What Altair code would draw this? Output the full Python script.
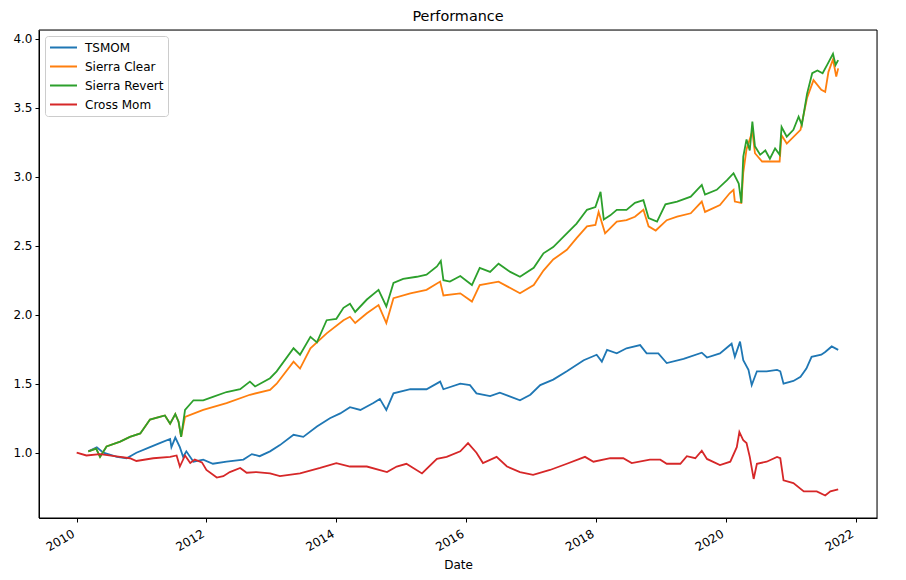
import altair as alt
import pandas as pd

names = ["TSMOM", "Sierra Clear", "Sierra Revert", "Cross Mom"]
colors = ["#1f77b4", "#ff7f0e", "#2ca02c", "#d62728"]

tsmom_t = [2010.18, 2010.31, 2010.41, 2010.62, 2010.77, 2010.92, 2011.13, 2011.28, 2011.44, 2011.46,
           2011.52, 2011.59, 2011.64, 2011.69, 2011.80, 2011.95, 2012.10, 2012.31, 2012.57, 2012.70,
           2012.82, 2012.98, 2013.13, 2013.34, 2013.49, 2013.70, 2013.90, 2014.06, 2014.21, 2014.37,
           2014.57, 2014.67, 2014.77, 2014.88, 2015.14, 2015.39, 2015.60, 2015.65, 2015.91, 2016.06,
           2016.16, 2016.37, 2016.52, 2016.83, 2016.99, 2017.14, 2017.34, 2017.55, 2017.81, 2018.01,
           2018.09, 2018.17, 2018.32, 2018.47, 2018.68, 2018.78, 2018.96, 2019.09, 2019.35, 2019.63,
           2019.71, 2019.91, 2020.09, 2020.14, 2020.22, 2020.27, 2020.35, 2020.40, 2020.48, 2020.63,
           2020.79, 2020.84, 2020.89, 2021.04, 2021.15, 2021.24, 2021.32, 2021.47, 2021.53, 2021.63,
           2021.73]
tsmom_v = [1.01, 1.04, 1.00, 0.97, 0.96, 1.00, 1.04, 1.07, 1.10, 1.04,
           1.11, 1.04, 0.97, 1.01, 0.935, 0.95, 0.92, 0.935, 0.95, 0.99,
           0.975, 1.01, 1.055, 1.13, 1.115, 1.19, 1.25, 1.285, 1.33, 1.31,
           1.36, 1.39, 1.31, 1.43, 1.46, 1.46, 1.515, 1.46, 1.50, 1.49,
           1.43, 1.41, 1.435, 1.38, 1.42, 1.49, 1.53, 1.59, 1.67, 1.71,
           1.66, 1.745, 1.72, 1.757, 1.78, 1.72, 1.72, 1.65, 1.68, 1.725,
           1.69, 1.72, 1.79, 1.695, 1.805, 1.67, 1.60, 1.49, 1.59, 1.59,
           1.60, 1.59, 1.50, 1.52, 1.55, 1.61, 1.695, 1.71, 1.73, 1.77,
           1.745]

clear_t = [2010.18, 2010.30, 2010.36, 2010.46, 2010.67, 2010.82, 2010.98, 2011.13, 2011.28, 2011.36,
           2011.44, 2011.52, 2011.57, 2011.61, 2011.67, 2011.95, 2012.31, 2012.67, 2012.98, 2013.08,
           2013.34, 2013.44, 2013.60, 2013.85, 2014.11, 2014.21, 2014.29, 2014.47, 2014.65, 2014.77,
           2014.88, 2015.14, 2015.39, 2015.60, 2015.65, 2015.91, 2016.09, 2016.21, 2016.50, 2016.83,
           2017.04, 2017.19, 2017.34, 2017.55, 2017.70, 2017.86, 2017.99, 2018.04, 2018.14, 2018.32,
           2018.47, 2018.60, 2018.73, 2018.81, 2018.92, 2019.09, 2019.25, 2019.46, 2019.63, 2019.68,
           2019.91, 2020.06, 2020.12, 2020.14, 2020.24, 2020.27, 2020.32, 2020.41, 2020.45, 2020.56,
           2020.83, 2020.86, 2020.94, 2021.15, 2021.25, 2021.35, 2021.47, 2021.53, 2021.58, 2021.65,
           2021.70, 2021.73]
clear_v = [1.01, 1.03, 0.97, 1.045, 1.08, 1.115, 1.14, 1.24, 1.26, 1.27,
           1.21, 1.28, 1.225, 1.115, 1.26, 1.31, 1.36, 1.42, 1.455, 1.50,
           1.66, 1.61, 1.757, 1.865, 1.96, 1.985, 1.94, 2.01, 2.07, 1.94,
           2.12, 2.155, 2.18, 2.24, 2.14, 2.155, 2.095, 2.215, 2.24, 2.155,
           2.215, 2.32, 2.40, 2.47, 2.555, 2.64, 2.65, 2.745, 2.59, 2.675,
           2.685, 2.71, 2.76, 2.64, 2.61, 2.685, 2.71, 2.735, 2.82, 2.745,
           2.795, 2.88, 2.905, 2.82, 2.81, 3.03, 3.20, 3.33, 3.17, 3.11,
           3.11, 3.30, 3.24, 3.34, 3.57, 3.70, 3.63, 3.615, 3.76, 3.85,
           3.725, 3.785]

revert_t = [2010.18, 2010.30, 2010.36, 2010.46, 2010.67, 2010.82, 2010.98, 2011.13, 2011.28, 2011.36,
            2011.44, 2011.52, 2011.57, 2011.61, 2011.67, 2011.80, 2011.95, 2012.10, 2012.31, 2012.52,
            2012.67, 2012.75, 2012.98, 2013.08, 2013.34, 2013.44, 2013.60, 2013.70, 2013.85, 2014.00,
            2014.11, 2014.21, 2014.29, 2014.47, 2014.65, 2014.77, 2014.88, 2015.03, 2015.24, 2015.39,
            2015.55, 2015.61, 2015.65, 2015.75, 2015.91, 2016.09, 2016.21, 2016.37, 2016.50, 2016.68,
            2016.83, 2017.04, 2017.19, 2017.34, 2017.55, 2017.70, 2017.86, 2017.99, 2018.07, 2018.12,
            2018.22, 2018.32, 2018.47, 2018.60, 2018.73, 2018.81, 2018.94, 2019.07, 2019.25, 2019.46,
            2019.63, 2019.68, 2019.86, 2020.02, 2020.12, 2020.20, 2020.24, 2020.27, 2020.32, 2020.37,
            2020.41, 2020.45, 2020.53, 2020.61, 2020.68, 2020.76, 2020.83, 2020.86, 2020.94, 2021.04,
            2021.12, 2021.17, 2021.25, 2021.33, 2021.41, 2021.49, 2021.56, 2021.65, 2021.69, 2021.73]
revert_v = [1.01, 1.03, 0.97, 1.045, 1.08, 1.115, 1.14, 1.24, 1.26, 1.27,
            1.21, 1.28, 1.225, 1.115, 1.31, 1.38, 1.38, 1.405, 1.44, 1.46,
            1.515, 1.48, 1.54, 1.59, 1.757, 1.71, 1.84, 1.80, 1.96, 1.97,
            2.05, 2.08, 2.02, 2.11, 2.18, 2.06, 2.23, 2.26, 2.275, 2.29,
            2.35, 2.39, 2.25, 2.24, 2.28, 2.215, 2.34, 2.31, 2.37, 2.31,
            2.275, 2.34, 2.445, 2.49, 2.59, 2.66, 2.76, 2.78, 2.89, 2.69,
            2.72, 2.76, 2.76, 2.81, 2.83, 2.70, 2.675, 2.80, 2.82, 2.855,
            2.94, 2.87, 2.905, 2.975, 3.025, 2.95, 2.81, 3.145, 3.27, 3.19,
            3.40, 3.22, 3.16, 3.19, 3.13, 3.205, 3.16, 3.36, 3.29, 3.34,
            3.435, 3.375, 3.60, 3.75, 3.77, 3.75, 3.81, 3.89, 3.81, 3.845]

cross_t = [2010.00, 2010.15, 2010.36, 2010.67, 2010.82, 2010.92, 2011.18, 2011.44, 2011.54, 2011.59,
           2011.67, 2011.75, 2011.82, 2011.93, 2012.00, 2012.16, 2012.26, 2012.36, 2012.52, 2012.62,
           2012.77, 2012.98, 2013.13, 2013.44, 2013.75, 2014.00, 2014.21, 2014.47, 2014.78, 2014.93,
           2015.08, 2015.32, 2015.55, 2015.70, 2015.91, 2016.03, 2016.16, 2016.26, 2016.47, 2016.63,
           2016.83, 2017.03, 2017.29, 2017.55, 2017.83, 2017.96, 2018.22, 2018.42, 2018.55, 2018.83,
           2018.99, 2019.09, 2019.30, 2019.40, 2019.53, 2019.63, 2019.71, 2019.91, 2020.07, 2020.17,
           2020.21, 2020.27, 2020.32, 2020.37, 2020.43, 2020.48, 2020.63, 2020.79, 2020.84, 2020.89,
           2021.04, 2021.20, 2021.40, 2021.53, 2021.61, 2021.73]
cross_v = [1.00, 0.98, 0.99, 0.97, 0.96, 0.94, 0.96, 0.97, 0.98, 0.90,
           0.98, 0.925, 0.95, 0.93, 0.875, 0.82, 0.83, 0.86, 0.89, 0.855,
           0.86, 0.85, 0.83, 0.85, 0.89, 0.925, 0.90, 0.90, 0.86, 0.90,
           0.92, 0.85, 0.955, 0.97, 1.01, 1.07, 1.00, 0.925, 0.97, 0.90,
           0.86, 0.84, 0.875, 0.92, 0.97, 0.935, 0.96, 0.96, 0.925, 0.95,
           0.95, 0.92, 0.92, 0.975, 0.96, 1.015, 0.955, 0.91, 0.935, 1.04,
           1.15, 1.09, 1.07, 0.97, 0.81, 0.92, 0.935, 0.97, 0.96, 0.80,
           0.78, 0.72, 0.72, 0.69, 0.72, 0.735]


def to_date(t):
    y = int(t)
    return pd.Timestamp(year=y, month=1, day=1) + pd.Timedelta(days=(t - y) * 365.25)


series = [(names[0], tsmom_t, tsmom_v), (names[1], clear_t, clear_v),
          (names[2], revert_t, revert_v), (names[3], cross_t, cross_v)]

W, H = 838, 488

color_scale = alt.Scale(domain=names, range=colors)
legend = alt.Legend(
    title=None, orient="none", legendX=6, legendY=6, direction="vertical",
    symbolType="stroke", symbolSize=729, symbolStrokeWidth=1.8,
    labelFontSize=12, labelFont="DejaVu Sans", labelColor="#000000",
    labelOffset=7, padding=4, rowPadding=4, clipHeight=15,
    fillColor="white", strokeColor="#cccccc", cornerRadius=3,
)

x_axis = alt.Axis(
    values=[alt.DateTime(year=y, month=1, date=1) for y in range(2010, 2023, 2)],
    format="%Y", labelAngle=-30, labelAlign="right", labelBaseline="top",
    labelFontSize=12, labelFont="DejaVu Sans", labelColor="#000000",
    labelOffset=-6, labelPadding=6,
    tickSize=4, tickColor="#000000", domainColor="#000000", grid=False,
    title="Date", titleFontSize=12, titleFont="DejaVu Sans", titleFontWeight="normal",
    titleColor="#000000", titlePadding=7,
)
y_axis = alt.Axis(
    values=[1.0, 1.5, 2.0, 2.5, 3.0, 3.5, 4.0], format=".1f",
    labelFontSize=12, labelFont="DejaVu Sans", labelColor="#000000",
    tickSize=4, tickColor="#000000", domainColor="#000000", grid=False,
    title=None, labelPadding=3,
)
x_scale = alt.Scale(domain=[alt.DateTime(year=2009, month=6, date=3),
                            alt.DateTime(year=2022, month=5, date=1)], nice=False)
y_scale = alt.Scale(domain=[0.527, 4.063], nice=False, zero=False)

layers = []
for name, ts, vs in series:
    df = pd.DataFrame({"Date": [to_date(t) for t in ts], "value": vs, "series": name})
    layers.append(
        alt.Chart(df).mark_line(strokeWidth=1.8, clip=True).encode(
            x=alt.X("Date:T", scale=x_scale, axis=x_axis),
            y=alt.Y("value:Q", scale=y_scale, axis=y_axis),
            color=alt.Color("series:N", scale=color_scale, legend=legend),
        )
    )

frame = alt.Chart(pd.DataFrame({"f": [0]})).mark_rect(
    fill="transparent", stroke="#000000", strokeWidth=1
).encode(x=alt.value(0), x2=alt.value(W), y=alt.value(0), y2=alt.value(H))

chart = alt.layer(*layers, frame).properties(
    width=W, height=H,
    title=alt.Title("Performance", fontSize=14.4, font="DejaVu Sans", fontWeight="normal",
                    color="#000000", anchor="middle", offset=5),
    autosize=alt.AutoSizeParams(type="none"),
    padding={"left": 31, "top": 22, "right": 21, "bottom": 54},
).configure_view(stroke=None).configure(background="white")

chart.save("out.html", embed_options={"renderer": "svg", "actions": False})
